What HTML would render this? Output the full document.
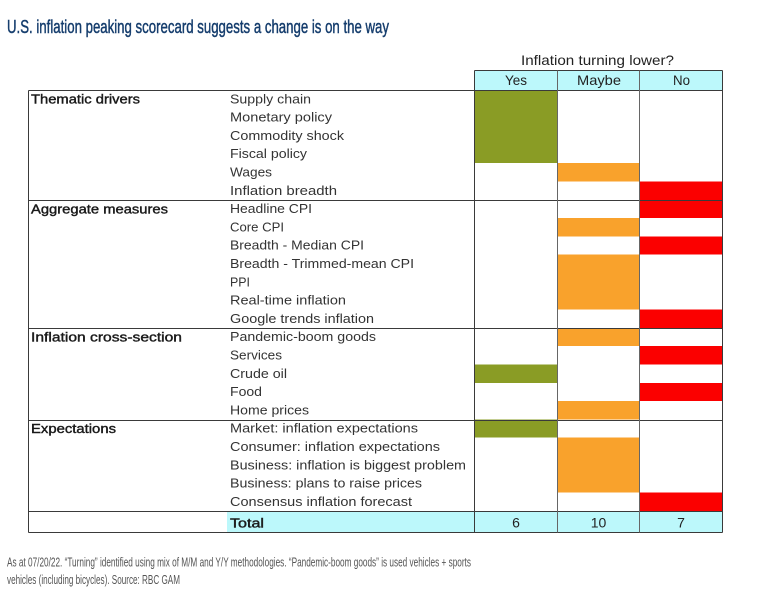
<!DOCTYPE html>
<html><head><meta charset="utf-8"><style>
html,body{margin:0;padding:0;background:#fff;}
svg{display:block;}
text{font-family:"Liberation Sans",sans-serif;}
.it{font-size:13px;fill:#333;}
.sec{font-size:13px;fill:#1a1a1a;stroke:#1a1a1a;stroke-width:0.4px;}
.hd{font-size:14px;fill:#222;}
</style></head><body>
<svg width="758" height="595" viewBox="0 0 758 595" xmlns="http://www.w3.org/2000/svg">
<rect width="758" height="595" fill="#fff"/>
<text x="7" y="33" font-size="18.5" fill="#153d6d" stroke="#153d6d" stroke-width="0.45" textLength="382" lengthAdjust="spacingAndGlyphs">U.S. inflation peaking scorecard suggests a change is on the way</text>

<text class="hd" x="521" y="65" textLength="153" lengthAdjust="spacingAndGlyphs">Inflation turning lower?</text>
<rect x="474.5" y="70.5" width="247.5" height="20" fill="#bcf8fb"/>
<text class="hd" x="505" y="85" textLength="22" lengthAdjust="spacingAndGlyphs">Yes</text>
<text class="hd" x="577" y="85" textLength="44" lengthAdjust="spacingAndGlyphs">Maybe</text>
<text class="hd" x="673" y="85" textLength="17" lengthAdjust="spacingAndGlyphs">No</text>

<!-- cells -->
<g shape-rendering="crispEdges">
<rect x="474.5" y="90" width="82.5" height="73.2" fill="#8a9c25"/>
<rect x="557" y="163.2" width="82.5" height="18.3" fill="#f9a22c"/>
<rect x="639.5" y="181.5" width="82.5" height="36.6" fill="#fb0000"/>
<rect x="557" y="218.1" width="82.5" height="18.3" fill="#f9a22c"/>
<rect x="639.5" y="236.4" width="82.5" height="18.3" fill="#fb0000"/>
<rect x="557" y="254.7" width="82.5" height="54.9" fill="#f9a22c"/>
<rect x="639.5" y="309.6" width="82.5" height="18.3" fill="#fb0000"/>
<rect x="557" y="327.9" width="82.5" height="18.3" fill="#f9a22c"/>
<rect x="639.5" y="346.2" width="82.5" height="18.3" fill="#fb0000"/>
<rect x="474.5" y="364.5" width="82.5" height="18.3" fill="#8a9c25"/>
<rect x="639.5" y="382.8" width="82.5" height="18.3" fill="#fb0000"/>
<rect x="557" y="401.1" width="82.5" height="18.3" fill="#f9a22c"/>
<rect x="474.5" y="419.4" width="82.5" height="18.3" fill="#8a9c25"/>
<rect x="557" y="437.7" width="82.5" height="54.9" fill="#f9a22c"/>
<rect x="639.5" y="492.6" width="82.5" height="18.4" fill="#fb0000"/>
<rect x="227" y="511.5" width="495" height="20.5" fill="#bcf8fb"/>
</g>

<!-- lines -->
<g stroke="#3a3a3a" stroke-width="1" shape-rendering="crispEdges" fill="none">
<line x1="474.5" y1="70.5" x2="722.5" y2="70.5"/>
<line x1="28.5" y1="90.5" x2="722.5" y2="90.5"/>
<line x1="28.5" y1="200.5" x2="722.5" y2="200.5"/>
<line x1="28.5" y1="328.5" x2="722.5" y2="328.5"/>
<line x1="28.5" y1="420.5" x2="722.5" y2="420.5"/>
<line x1="28.5" y1="511.5" x2="722.5" y2="511.5"/>
<line x1="28.5" y1="532.5" x2="722.5" y2="532.5"/>
<line x1="28.5" y1="90.5" x2="28.5" y2="532.5"/>
<line x1="474.5" y1="70.5" x2="474.5" y2="532.5"/>
<line x1="557.5" y1="70.5" x2="557.5" y2="532.5" stroke="#666"/>
<line x1="639.5" y1="70.5" x2="639.5" y2="532.5" stroke="#666"/>
<line x1="722.5" y1="70.5" x2="722.5" y2="532.5"/>
</g>

<!-- section labels -->
<text class="sec" x="31" y="103.3" textLength="109" lengthAdjust="spacingAndGlyphs">Thematic drivers</text>
<text class="sec" x="31" y="213.5" textLength="137" lengthAdjust="spacingAndGlyphs">Aggregate measures</text>
<text class="sec" x="31" y="341.5" textLength="151" lengthAdjust="spacingAndGlyphs">Inflation cross-section</text>
<text class="sec" x="31" y="433" textLength="85" lengthAdjust="spacingAndGlyphs">Expectations</text>

<!-- items -->
<text class="it" x="230" y="103.3" textLength="81" lengthAdjust="spacingAndGlyphs">Supply chain</text>
<text class="it" x="230" y="121.6" textLength="102" lengthAdjust="spacingAndGlyphs">Monetary policy</text>
<text class="it" x="230" y="139.9" textLength="114" lengthAdjust="spacingAndGlyphs">Commodity shock</text>
<text class="it" x="230" y="158.2" textLength="77" lengthAdjust="spacingAndGlyphs">Fiscal policy</text>
<text class="it" x="230" y="176.5" textLength="42" lengthAdjust="spacingAndGlyphs">Wages</text>
<text class="it" x="230" y="194.8" textLength="107" lengthAdjust="spacingAndGlyphs">Inflation breadth</text>
<text class="it" x="230" y="213.1" textLength="82" lengthAdjust="spacingAndGlyphs">Headline CPI</text>
<text class="it" x="230" y="231.4" textLength="54" lengthAdjust="spacingAndGlyphs">Core CPI</text>
<text class="it" x="230" y="249.7" textLength="134" lengthAdjust="spacingAndGlyphs">Breadth - Median CPI</text>
<text class="it" x="230" y="268" textLength="184" lengthAdjust="spacingAndGlyphs">Breadth - Trimmed-mean CPI</text>
<text class="it" x="230" y="286.3" textLength="20" lengthAdjust="spacingAndGlyphs">PPI</text>
<text class="it" x="230" y="304.6" textLength="116" lengthAdjust="spacingAndGlyphs">Real-time inflation</text>
<text class="it" x="230" y="322.9" textLength="144" lengthAdjust="spacingAndGlyphs">Google trends inflation</text>
<text class="it" x="230" y="341.2" textLength="146" lengthAdjust="spacingAndGlyphs">Pandemic-boom goods</text>
<text class="it" x="230" y="359.5" textLength="52" lengthAdjust="spacingAndGlyphs">Services</text>
<text class="it" x="230" y="377.8" textLength="57" lengthAdjust="spacingAndGlyphs">Crude oil</text>
<text class="it" x="230" y="396.1" textLength="32" lengthAdjust="spacingAndGlyphs">Food</text>
<text class="it" x="230" y="414.4" textLength="79" lengthAdjust="spacingAndGlyphs">Home prices</text>
<text class="it" x="230" y="432.7" textLength="188" lengthAdjust="spacingAndGlyphs">Market: inflation expectations</text>
<text class="it" x="230" y="451" textLength="210" lengthAdjust="spacingAndGlyphs">Consumer: inflation expectations</text>
<text class="it" x="230" y="469.3" textLength="236" lengthAdjust="spacingAndGlyphs">Business: inflation is biggest problem</text>
<text class="it" x="230" y="487.6" textLength="192" lengthAdjust="spacingAndGlyphs">Business: plans to raise prices</text>
<text class="it" x="230" y="505.9" textLength="182" lengthAdjust="spacingAndGlyphs">Consensus inflation forecast</text>

<text class="sec" x="230" y="527.5" textLength="34" lengthAdjust="spacingAndGlyphs">Total</text>
<text class="hd" x="516" y="527.5" text-anchor="middle" font-size="13">6</text>
<text class="hd" x="598.5" y="527.5" text-anchor="middle" font-size="13">10</text>
<text class="hd" x="681" y="527.5" text-anchor="middle" font-size="13">7</text>

<text x="7" y="566.5" font-size="12.5" fill="#555" textLength="464" lengthAdjust="spacingAndGlyphs">As at 07/20/22. “Turning” identified using mix of M/M and Y/Y methodologies. “Pandemic-boom goods” is used vehicles + sports</text>
<text x="7" y="584" font-size="12.5" fill="#555" textLength="173" lengthAdjust="spacingAndGlyphs">vehicles (including bicycles). Source: RBC GAM</text>
</svg>
</body></html>
